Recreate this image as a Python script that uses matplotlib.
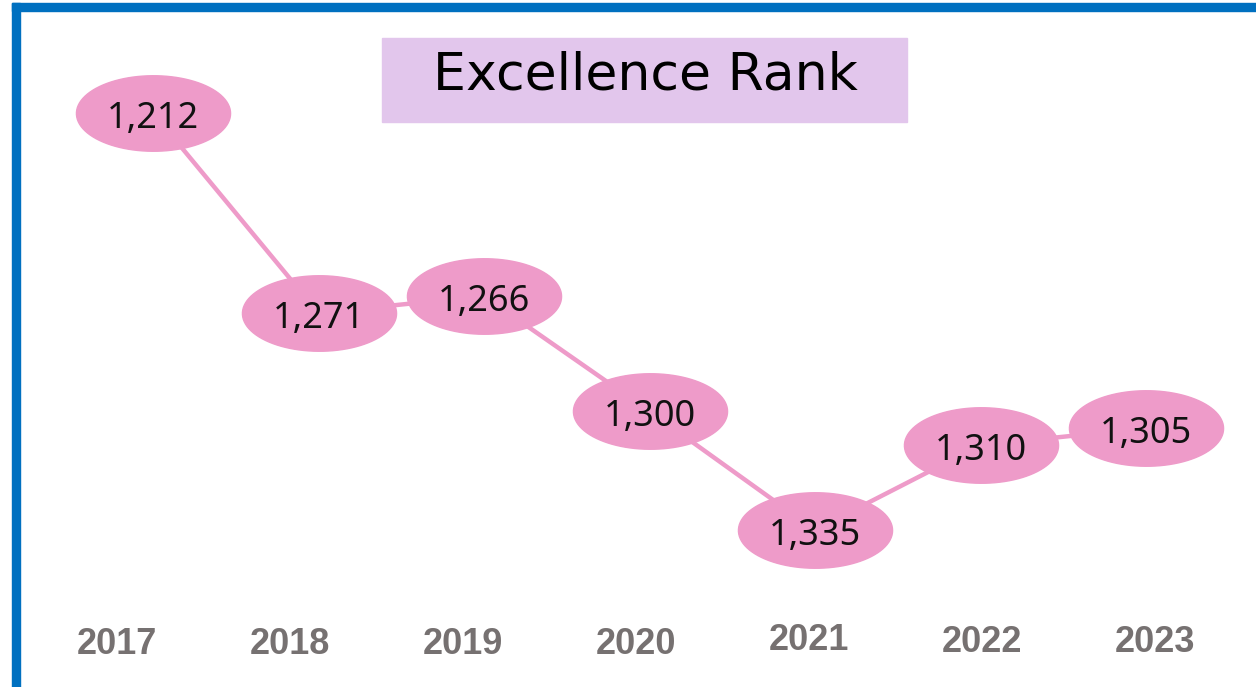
import matplotlib
matplotlib.use("Agg")
import matplotlib.pyplot as plt
from matplotlib.path import Path
from matplotlib.patches import Rectangle
import numpy as np

years = ["2017", "2018", "2019", "2020", "2021", "2022", "2023"]
ranks = [1212, 1271, 1266, 1300, 1335, 1310, 1305]
title = "Excellence Rank"

W, H = 1256, 687
fig = plt.figure(figsize=(W / 100, H / 100), dpi=100)
ax = fig.add_axes([0, 0, 1, 1])
ax.set_xlim(-153 / 165.5, (W - 153) / 165.5)
ax.set_ylim(1212 + (H - 113) / 3.39, 1212 - 113 / 3.39)
ax.axis("off")

pink = "#EE9BC9"
t = np.linspace(0, 2 * np.pi, 100)
ell = Path(np.column_stack([np.cos(t), 0.49 * np.sin(t)]))

x = np.arange(len(years))
ax.plot(x, ranks, color=pink, lw=3.2, marker=ell, markersize=111,
        markerfacecolor=pink, markeredgecolor=pink, solid_capstyle="butt", zorder=2)

for xi, v in zip(x, ranks):
    ax.text(xi, v + 1.8, f"{v:,}", ha="center", va="center", fontsize=26,
            family=["Noto Sans", "DejaVu Sans"], color="#111111", zorder=3)

yoffs = [0, 0, 0, 0, -5, -2, -2]
for i, (yr, dy) in enumerate(zip(years, yoffs)):
    xl = (117 + 173 * i - 153) / 165.5
    ax.text(xl, 1212 + (645 + dy - 113) / 3.39, yr, ha="center", va="center",
            fontsize=26, fontweight="bold", family="Liberation Sans", color="#767171")

# borders
fig.patches.append(Rectangle((12 / W, 1 - 11 / H), 1, 8 / H, transform=fig.transFigure,
                             color="#0070C0", zorder=5))
fig.patches.append(Rectangle((12 / W, 0), 8 / W, 1 - 3 / H, transform=fig.transFigure,
                             color="#0070C0", zorder=5))
# title
fig.patches.append(Rectangle((382 / W, 1 - 122 / H), 525 / W, 84 / H, transform=fig.transFigure,
                             color="#E2C6EC", zorder=1))
fig.text(645 / W, 1 - 76 / H, title, ha="center", va="center", fontsize=37.5,
         family="DejaVu Sans", color="black")

fig.savefig("out.png", dpi=100)
